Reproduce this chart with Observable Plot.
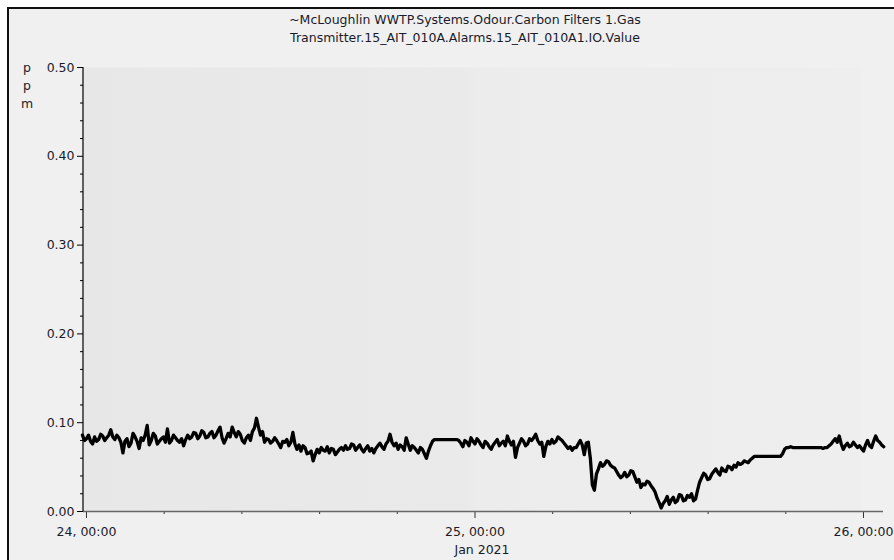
<!DOCTYPE html>
<html>
<head>
<meta charset="utf-8">
<script src="https://cdn.jsdelivr.net/npm/d3@7"></script>
<script src="https://cdn.jsdelivr.net/npm/@observablehq/plot@0.6"></script>
<style>
  html, body { margin: 0; padding: 0; background: #ffffff; width: 894px; height: 560px; overflow: hidden; }
  #frame { position: absolute; left: 7px; top: 7px; right: 0; bottom: 0; border-left: 2px solid #111; border-top: 2px solid #111; background: #f0f0f0; }
  #chart { position: absolute; left: 0; top: 0; }
  .title { position: absolute; left: 18px; width: 894px; text-align: center; font: 12.5px/14px "DejaVu Sans", sans-serif; color: #1a1a2a; }
  .unit { position: absolute; left: 20px; width: 14px; text-align: center; font: 12.5px/14px "DejaVu Sans", sans-serif; color: #1a1a2a; }
</style>
</head>
<body>
<div id="frame"></div>
<div id="chart"></div>
<div id="t1" class="title" style="top:13px"></div>
<div id="t2" class="title" style="top:31px"></div>
<div class="unit" style="top:61px">p</div>
<div class="unit" style="top:79px">p</div>
<div class="unit" style="top:97px">m</div>
<script>
// ---- data ----
const titleLines = ["~McLoughlin WWTP.Systems.Odour.Carbon Filters 1.Gas", "Transmitter.15_AIT_010A.Alarms.15_AIT_010A1.IO.Value"];
const startTime = Date.UTC(2021, 0, 23, 23, 45); // first sample
const stepMinutes = 7.5;
const ppm = [
  .086,.080,.082,.086,.079,.076,.084,.079,.081,.087,.085,.080,.083,.086,.092,.084,.081,.086,.083,.078,
  .066,.079,.082,.073,.077,.088,.084,.079,.071,.083,.080,.086,.097,.075,.080,.088,.085,.076,.079,.082,
  .084,.078,.093,.077,.080,.086,.083,.080,.078,.082,.074,.081,.086,.082,.084,.089,.088,.082,.085,.091,
  .089,.083,.084,.088,.090,.083,.086,.091,.095,.083,.077,.082,.088,.084,.095,.089,.084,.090,.087,.080,
  .077,.083,.086,.080,.090,.094,.105,.095,.086,.090,.078,.082,.081,.077,.079,.083,.080,.076,.072,.079,
  .078,.081,.074,.078,.089,.076,.070,.075,.068,.074,.072,.065,.066,.068,.057,.064,.070,.066,.072,.069,
  .068,.073,.066,.071,.070,.064,.067,.070,.072,.069,.074,.070,.071,.076,.075,.069,.072,.075,.070,.067,
  .071,.074,.068,.071,.066,.071,.074,.077,.073,.070,.076,.079,.087,.078,.074,.077,.070,.075,.073,.069,
  .083,.076,.069,.074,.072,.069,.066,.072,.070,.065,.060,.068,.074,.079,.081,.081,.081,.081,.081,.081,
  .081,.081,.081,.081,.081,.081,.080,.077,.073,.080,.078,.074,.083,.079,.076,.082,.079,.075,.072,.079,
  .077,.073,.070,.075,.078,.081,.074,.077,.079,.074,.085,.079,.075,.079,.061,.072,.077,.082,.079,.074,
  .076,.082,.080,.083,.087,.080,.076,.078,.062,.073,.079,.076,.081,.077,.079,.084,.082,.080,.077,.074,
  .071,.073,.069,.072,.072,.076,.080,.075,.064,.077,.078,.060,.030,.024,.042,.048,.055,.051,.053,.057,
  .056,.052,.050,.049,.045,.041,.038,.040,.044,.039,.041,.046,.045,.039,.033,.036,.027,.031,.030,.034,
  .033,.029,.026,.022,.015,.010,.004,.009,.012,.017,.008,.013,.016,.010,.012,.019,.018,.012,.013,.018,
  .016,.020,.012,.014,.024,.033,.038,.043,.041,.036,.037,.042,.045,.048,.044,.041,.049,.046,.045,.051,
  .050,.047,.052,.050,.055,.053,.054,.057,.056,.055,.058,.060,.062,.062,.062,.062,.062,.062,.062,.062,
  .062,.062,.062,.062,.062,.062,.065,.070,.072,.072,.073,.072,.072,.072,.072,.072,.072,.072,.072,.072,
  .072,.072,.072,.072,.072,.072,.071,.072,.072,.074,.076,.079,.082,.078,.085,.076,.070,.074,.077,.073,
  .074,.078,.075,.072,.074,.071,.068,.075,.080,.074,.072,.079,.085,.080,.078,.075,.073
];
const xDomain = [new Date(Date.UTC(2021, 0, 23, 23, 48, 53)), new Date(Date.UTC(2021, 0, 26, 1, 14, 8))];
const yDomain = [0, 0.5];
const yMajorTicks = [0, 0.1, 0.2, 0.3, 0.4, 0.5];
const yMinorTicks = [0.02,0.04,0.06,0.08,0.12,0.14,0.16,0.18,0.22,0.24,0.26,0.28,0.32,0.34,0.36,0.38,0.42,0.44,0.46,0.48];
const xMajorTicks = [new Date(Date.UTC(2021,0,24)), new Date(Date.UTC(2021,0,25)), new Date(Date.UTC(2021,0,26))];
const xMajorLabels = ["24, 00:00", "25, 00:00", "26, 00:00"];
const minorHours = [4.8, 9.6, 14.4, 19.2, 28.8, 33.6, 38.4, 43.2];
const monthLabel = "Jan 2021";

document.getElementById("t1").textContent = titleLines[0];
document.getElementById("t2").textContent = titleLines[1];

const data = ppm.map((v, i) => ({time: new Date(startTime + i * stepMinutes * 60000), ppm: v}));
const xMinorTicks = minorHours.map(h => new Date(Date.UTC(2021,0,24) + h * 3600000));

const textColor = "#1a1a2a";
const chart = Plot.plot({
  width: 894,
  height: 560,
  marginLeft: 83,
  marginRight: 11,
  marginTop: 67,
  marginBottom: 49,
  style: {background: "transparent", fontFamily: "DejaVu Sans, sans-serif", fontSize: "12.5px", color: textColor},
  x: {type: "utc", domain: xDomain, axis: null},
  y: {domain: yDomain, axis: null},
  marks: [
    Plot.frame({fill: "url(#plotbg)", stroke: "none"}),
    Plot.line(data, {x: "time", y: "ppm", stroke: "#000", strokeWidth: 3.3, strokeLinejoin: "round"}),
    Plot.axisY(yMajorTicks, {label: null, tickSize: 6, tickPadding: 3, tickFormat: d3.format(".2f"), stroke: "#000", fill: textColor}),
    Plot.axisY(yMinorTicks, {label: null, tickSize: 3, tickFormat: () => "", stroke: "#000"}),
    Plot.axisX(xMajorTicks, {label: null, tickSize: 7, tickPadding: 9, tickFormat: (d, i) => xMajorLabels[i], stroke: "#333", fill: textColor}),
    Plot.axisX(xMinorTicks, {label: null, tickSize: 3, tickFormat: () => "", stroke: "#333"}),
    Plot.text([xMajorTicks[1]], {x: d => d, text: [monthLabel], frameAnchor: "bottom", dy: 42, dx: 7, fill: textColor}),
    Plot.ruleY([0], {stroke: "#666", strokeWidth: 1.5}),
    Plot.ruleX([xDomain[0]], {stroke: "#000", strokeWidth: 1.2, dx: -0.5})
  ]
});
const ns = "http://www.w3.org/2000/svg";
const defs = document.createElementNS(ns, "defs");
defs.innerHTML = '<linearGradient id="plotbg" x1="0" x2="1" y1="0" y2="0"><stop offset="0" stop-color="#e7e7e7"/><stop offset="0.48" stop-color="#eaeaea"/><stop offset="0.49" stop-color="#ececec"/><stop offset="0.97" stop-color="#eeeeee"/><stop offset="0.975" stop-color="#f0f0f0"/><stop offset="1" stop-color="#f0f0f0"/></linearGradient>';
chart.insertBefore(defs, chart.firstChild);
document.getElementById("chart").appendChild(chart);
</script>
</body>
</html>
